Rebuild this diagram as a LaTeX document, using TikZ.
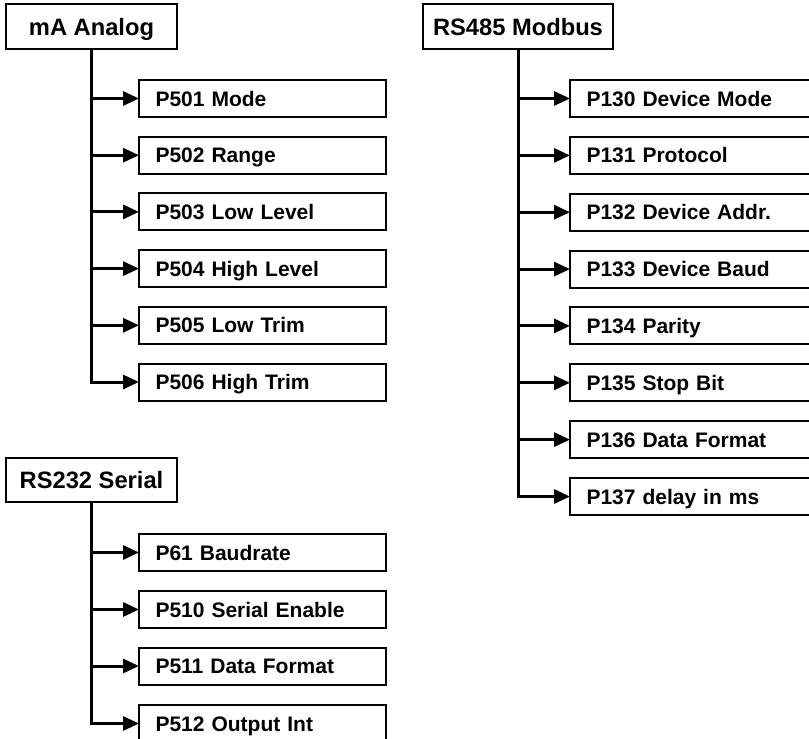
\documentclass[tikz,border=0pt]{standalone}
\usepackage{fontspec}
\setmainfont{Liberation Sans}
\usetikzlibrary{arrows.meta}
\begin{document}
\begin{tikzpicture}[x=1pt,y=-1pt,
  box/.style={draw, line width=2pt, outer sep=0pt, inner sep=0pt},
  hdr/.style={box, align=center, minimum height=45pt, font=\fontsize{23.7}{28}\selectfont\bfseries, text height=17pt, text depth=0pt},
  item/.style={box, minimum height=37pt, text width=#1, align=left, inner xsep=16.5pt, anchor=west, font=\fontsize{21}{25}\selectfont\bfseries, text height=15pt, text depth=0pt},
  branch/.style={line width=3pt, -{Triangle[length=16pt,width=14pt]}},
  trunk/.style={line width=3pt, line join=miter, -{Triangle[length=16pt,width=14pt]}}]
\useasboundingbox (0,0) rectangle (809,739);
\clip (0,0) rectangle (809,739);

% mA Analog
\node[hdr, minimum width=171pt] (ma) at (91.5,26.5) {mA Analog};
\node[item=214pt] (a1) at (139,98.5) {P501 Mode};
\node[item=214pt] (a2) at (139,155.2) {P502 Range};
\node[item=214pt] (a3) at (139,211.9) {P503 Low Level};
\node[item=214pt] (a4) at (139,268.6) {P504 High Level};
\node[item=214pt] (a5) at (139,325.3) {P505 Low Trim};
\node[item=214pt] (a6) at (139,382) {P506 High Trim};
\foreach \n in {a1,a2,a3,a4,a5}{\draw[branch] (ma.south |- \n.west) -- (\n.west);}
\draw[trunk] (ma.south) |- (a6.west);

% RS485 Modbus
\node[hdr, minimum width=190pt] (mb) at (518,26.5) {RS485 Modbus};
\node[item=227pt] (b1) at (570,98.5) {P130 Device Mode};
\node[item=227pt] (b2) at (570,155.4) {P131 Protocol};
\node[item=227pt] (b3) at (570,212.2) {P132 Device Addr.};
\node[item=227pt] (b4) at (570,269.1) {P133 Device Baud};
\node[item=227pt] (b5) at (570,325.9) {P134 Parity};
\node[item=227pt] (b6) at (570,382.8) {P135 Stop Bit};
\node[item=227pt] (b7) at (570,439.6) {P136 Data Format};
\node[item=227pt] (b8) at (570,496.5) {P137 delay in ms};
\foreach \n in {b1,b2,b3,b4,b5,b6,b7}{\draw[branch] (mb.south |- \n.west) -- (\n.west);}
\draw[trunk] (mb.south) |- (b8.west);

% RS232 Serial
\node[hdr, minimum width=171pt, minimum height=44pt] (rs) at (91.5,480) {RS232 Serial};
\node[item=214pt] (c1) at (139,552.5) {P61 Baudrate};
\node[item=214pt] (c2) at (139,609.5) {P510 Serial Enable};
\node[item=214pt] (c3) at (139,666) {P511 Data Format};
\node[item=214pt] (c4) at (139,723.5) {P512 Output Int};
\foreach \n in {c1,c2,c3}{\draw[branch] (rs.south |- \n.west) -- (\n.west);}
\draw[trunk] (rs.south) |- (c4.west);
\end{tikzpicture}
\end{document}
